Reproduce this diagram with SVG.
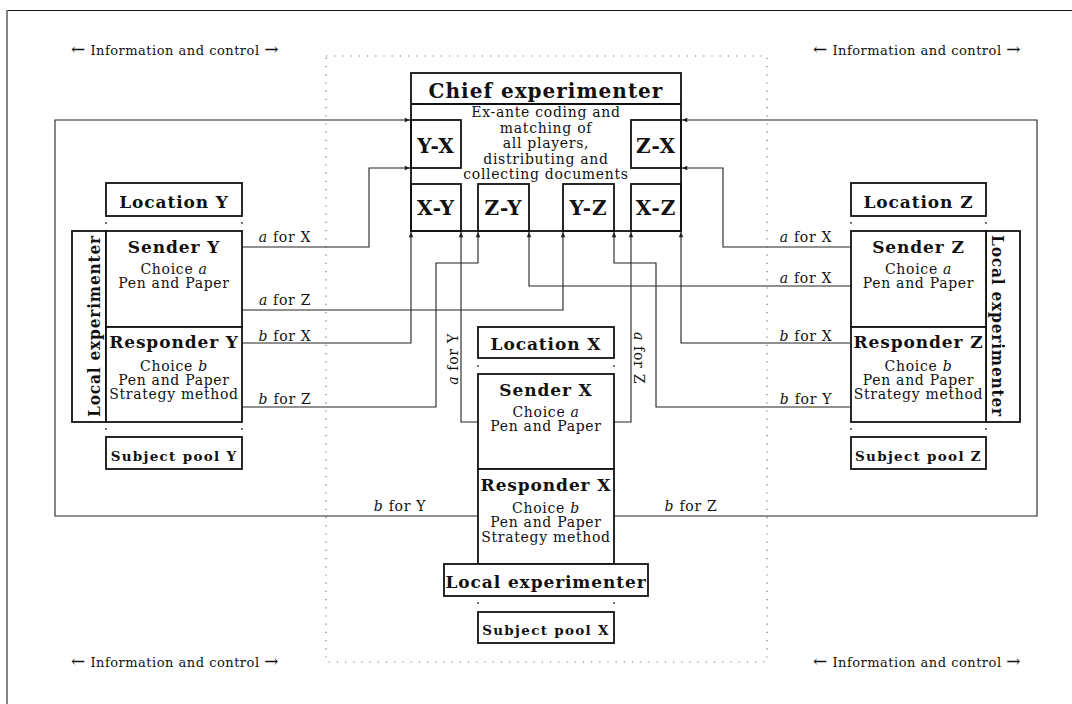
<svg xmlns="http://www.w3.org/2000/svg" width="1072" height="704" viewBox="0 0 1072 704">
<defs>
<marker id="ah" viewBox="0 0 8 8" refX="7.5" refY="4" markerWidth="6" markerHeight="6" orient="auto" markerUnits="userSpaceOnUse">
<path d="M0.5,1 L7.5,4 L0.5,7 Z" fill="#222"/>
</marker>
<style>
.box{fill:#fff;stroke:#111;stroke-width:1.8}
.ibox{fill:none;stroke:#111;stroke-width:1.8}
.arr{fill:none;stroke:#222;stroke-width:1.1;marker-end:url(#ah)}
.dotted{fill:none;stroke:#777;stroke-width:1.2;stroke-dasharray:1.2 7}
.dot{fill:#333}
text{font-family:"DejaVu Serif","Liberation Serif",serif;fill:#111;text-anchor:middle}
.t{font-size:14px;letter-spacing:0.7px}
.i{font-style:italic}
.b{font-size:17px;font-weight:bold;letter-spacing:0.9px}
.bx{font-size:20px;font-weight:bold;letter-spacing:1px}
.chief{font-size:20px;font-weight:bold;letter-spacing:1px}
.pool{font-size:13.5px;font-weight:bold;letter-spacing:1.3px}
.info{font-size:13px;letter-spacing:0.5px}
.ar{font-size:17px}
</style>
</defs>
<rect width="1072" height="704" fill="#fff"/>
<!-- page frame -->
<line x1="7" y1="10.5" x2="1072" y2="10.5" stroke="#111" stroke-width="1.2"/>
<line x1="7" y1="10" x2="7" y2="704" stroke="#777" stroke-width="1.8"/>
<!-- dotted central region -->
<rect class="dotted" x="326" y="56" width="441" height="606"/>
<!-- info texts -->
<g id="info">
<text class="info" x="175" y="55"><tspan class="ar">←</tspan> Information and control <tspan class="ar">→</tspan></text>
<text class="info" x="917" y="55"><tspan class="ar">←</tspan> Information and control <tspan class="ar">→</tspan></text>
<text class="info" x="175" y="667"><tspan class="ar">←</tspan> Information and control <tspan class="ar">→</tspan></text>
<text class="info" x="917" y="667"><tspan class="ar">←</tspan> Information and control <tspan class="ar">→</tspan></text>
</g>
<!-- connectors -->
<g id="connectors">
<polyline class="arr" points="478,516 55,516 55,120 410,120"/>
<polyline class="arr" points="614,516 1037,516 1037,120 682,120"/>
<polyline class="arr" points="242,247 369,247 369,168 410,168"/>
<polyline class="arr" points="850,247 723,247 723,168 682,168"/>
<polyline class="arr" points="242,343 411,343 411,232"/>
<polyline class="arr" points="242,310 563,310 563,232"/>
<polyline class="arr" points="242,407 436,407 436,263 478,263 478,232"/>
<polyline class="arr" points="478,422 461,422 461,232"/>
<polyline class="arr" points="614,422 631,422 631,232"/>
<polyline class="arr" points="850,286 529,286 529,232"/>
<polyline class="arr" points="850,343 681,343 681,232"/>
<polyline class="arr" points="850,407 656,407 656,263 614,263 614,232"/>
<text class="t" x="285" y="242"><tspan class="i">a</tspan> for X</text>
<text class="t" x="285" y="305"><tspan class="i">a</tspan> for Z</text>
<text class="t" x="285" y="341"><tspan class="i">b</tspan> for X</text>
<text class="t" x="285" y="404"><tspan class="i">b</tspan> for Z</text>
<text class="t" x="806" y="242"><tspan class="i">a</tspan> for X</text>
<text class="t" x="806" y="283"><tspan class="i">a</tspan> for X</text>
<text class="t" x="806" y="341"><tspan class="i">b</tspan> for X</text>
<text class="t" x="806" y="404"><tspan class="i">b</tspan> for Y</text>
<text class="t" x="400" y="511"><tspan class="i">b</tspan> for Y</text>
<text class="t" x="691" y="511"><tspan class="i">b</tspan> for Z</text>
<text class="t" transform="translate(458,359) rotate(-90)"><tspan class="i">a</tspan> for Y</text>
<text class="t" transform="translate(634,358) rotate(90)"><tspan class="i">a</tspan> for Z</text>
</g>
<!-- chief experimenter -->
<g id="chief">
<rect class="box" x="411" y="73" width="270" height="158"/>
<line class="ibox" x1="411" y1="104" x2="681" y2="104"/>
<text class="chief" x="546" y="98">Chief experimenter</text>
<text class="t" x="546" y="117">Ex-ante coding and</text>
<text class="t" x="546" y="133">matching of</text>
<text class="t" x="546" y="148">all players,</text>
<text class="t" x="546" y="164">distributing and</text>
<text class="t" x="546" y="179">collecting documents</text>
</g>
<g id="box-YX"><rect class="ibox" x="411" y="120" width="50" height="48"/><text class="bx" x="436" y="153">Y-X</text></g>
<g id="box-ZX"><rect class="ibox" x="631" y="120" width="50" height="48"/><text class="bx" x="656" y="153">Z-X</text></g>
<g id="box-XY"><rect class="ibox" x="411" y="184" width="50" height="47"/><text class="bx" x="436" y="215">X-Y</text></g>
<g id="box-ZY"><rect class="ibox" x="478" y="184" width="51" height="47"/><text class="bx" x="503.5" y="215">Z-Y</text></g>
<g id="box-YZ"><rect class="ibox" x="563" y="184" width="51" height="47"/><text class="bx" x="588.5" y="215">Y-Z</text></g>
<g id="box-XZ"><rect class="ibox" x="631" y="184" width="50" height="47"/><text class="bx" x="656" y="215">X-Z</text></g>
<!-- Location Y -->
<g id="location-Y">
<rect class="box" x="106" y="183" width="136" height="33"/>
<text class="b" x="174" y="208">Location Y</text>
<circle class="dot" cx="106" cy="223" r="0.9"/><circle class="dot" cx="242" cy="223" r="0.9"/>
<circle class="dot" cx="106" cy="429" r="0.9"/><circle class="dot" cx="242" cy="429" r="0.9"/>
</g>
<g id="local-exp-Y">
<rect class="box" x="72" y="231" width="34" height="191"/>
<text class="b" transform="translate(100,326) rotate(-90)" x="-91" style="text-anchor:start" textLength="182" lengthAdjust="spacingAndGlyphs">Local experimenter</text>
</g>
<g id="sender-Y">
<rect class="box" x="106" y="231" width="136" height="96"/>
<text class="b" x="174" y="253">Sender Y</text>
<text class="t" x="174" y="274">Choice <tspan class="i">a</tspan></text>
<text class="t" x="174" y="288">Pen and Paper</text>
</g>
<g id="responder-Y">
<rect class="box" x="106" y="327" width="136" height="95"/>
<text class="b" x="174" y="348">Responder Y</text>
<text class="t" x="174" y="371">Choice <tspan class="i">b</tspan></text>
<text class="t" x="174" y="385">Pen and Paper</text>
<text class="t" x="174" y="399">Strategy method</text>
</g>
<g id="pool-Y">
<rect class="box" x="106" y="437" width="136" height="32"/>
<text class="pool" x="174" y="461">Subject pool Y</text>
</g>
<!-- Location Z -->
<g id="location-Z">
<rect class="box" x="851" y="183" width="135" height="33"/>
<text class="b" x="918.5" y="208">Location Z</text>
<circle class="dot" cx="851" cy="223" r="0.9"/><circle class="dot" cx="986" cy="223" r="0.9"/>
<circle class="dot" cx="851" cy="429" r="0.9"/><circle class="dot" cx="986" cy="429" r="0.9"/>
</g>
<g id="local-exp-Z">
<rect class="box" x="986" y="231" width="34" height="191"/>
<text class="b" transform="translate(992,326) rotate(90)" x="-91" style="text-anchor:start" textLength="182" lengthAdjust="spacingAndGlyphs">Local experimenter</text>
</g>
<g id="sender-Z">
<rect class="box" x="851" y="231" width="135" height="96"/>
<text class="b" x="918.5" y="253">Sender Z</text>
<text class="t" x="918.5" y="274">Choice <tspan class="i">a</tspan></text>
<text class="t" x="918.5" y="288">Pen and Paper</text>
</g>
<g id="responder-Z">
<rect class="box" x="851" y="327" width="135" height="95"/>
<text class="b" x="918.5" y="348">Responder Z</text>
<text class="t" x="918.5" y="371">Choice <tspan class="i">b</tspan></text>
<text class="t" x="918.5" y="385">Pen and Paper</text>
<text class="t" x="918.5" y="399">Strategy method</text>
</g>
<g id="pool-Z">
<rect class="box" x="851" y="437" width="135" height="32"/>
<text class="pool" x="918.5" y="461">Subject pool Z</text>
</g>
<!-- Location X -->
<g id="location-X">
<rect class="box" x="478" y="327" width="136" height="31"/>
<text class="b" x="546" y="350">Location X</text>
<circle class="dot" cx="478" cy="366" r="0.9"/><circle class="dot" cx="614" cy="366" r="0.9"/>
<circle class="dot" cx="478" cy="603" r="0.9"/><circle class="dot" cx="614" cy="603" r="0.9"/>
</g>
<g id="sender-X">
<rect class="box" x="478" y="374" width="136" height="95"/>
<text class="b" x="546" y="396">Sender X</text>
<text class="t" x="546" y="417">Choice <tspan class="i">a</tspan></text>
<text class="t" x="546" y="431">Pen and Paper</text>
</g>
<g id="responder-X">
<rect class="box" x="478" y="469" width="136" height="95"/>
<text class="b" x="546" y="491">Responder X</text>
<text class="t" x="546" y="513">Choice <tspan class="i">b</tspan></text>
<text class="t" x="546" y="527">Pen and Paper</text>
<text class="t" x="546" y="542">Strategy method</text>
</g>
<g id="local-exp-X">
<rect class="box" x="444" y="564" width="204" height="32"/>
<text class="b" x="546" y="588">Local experimenter</text>
</g>
<g id="pool-X">
<rect class="box" x="478" y="612" width="136" height="31"/>
<text class="pool" x="546" y="635">Subject pool X</text>
</g>
</svg>
